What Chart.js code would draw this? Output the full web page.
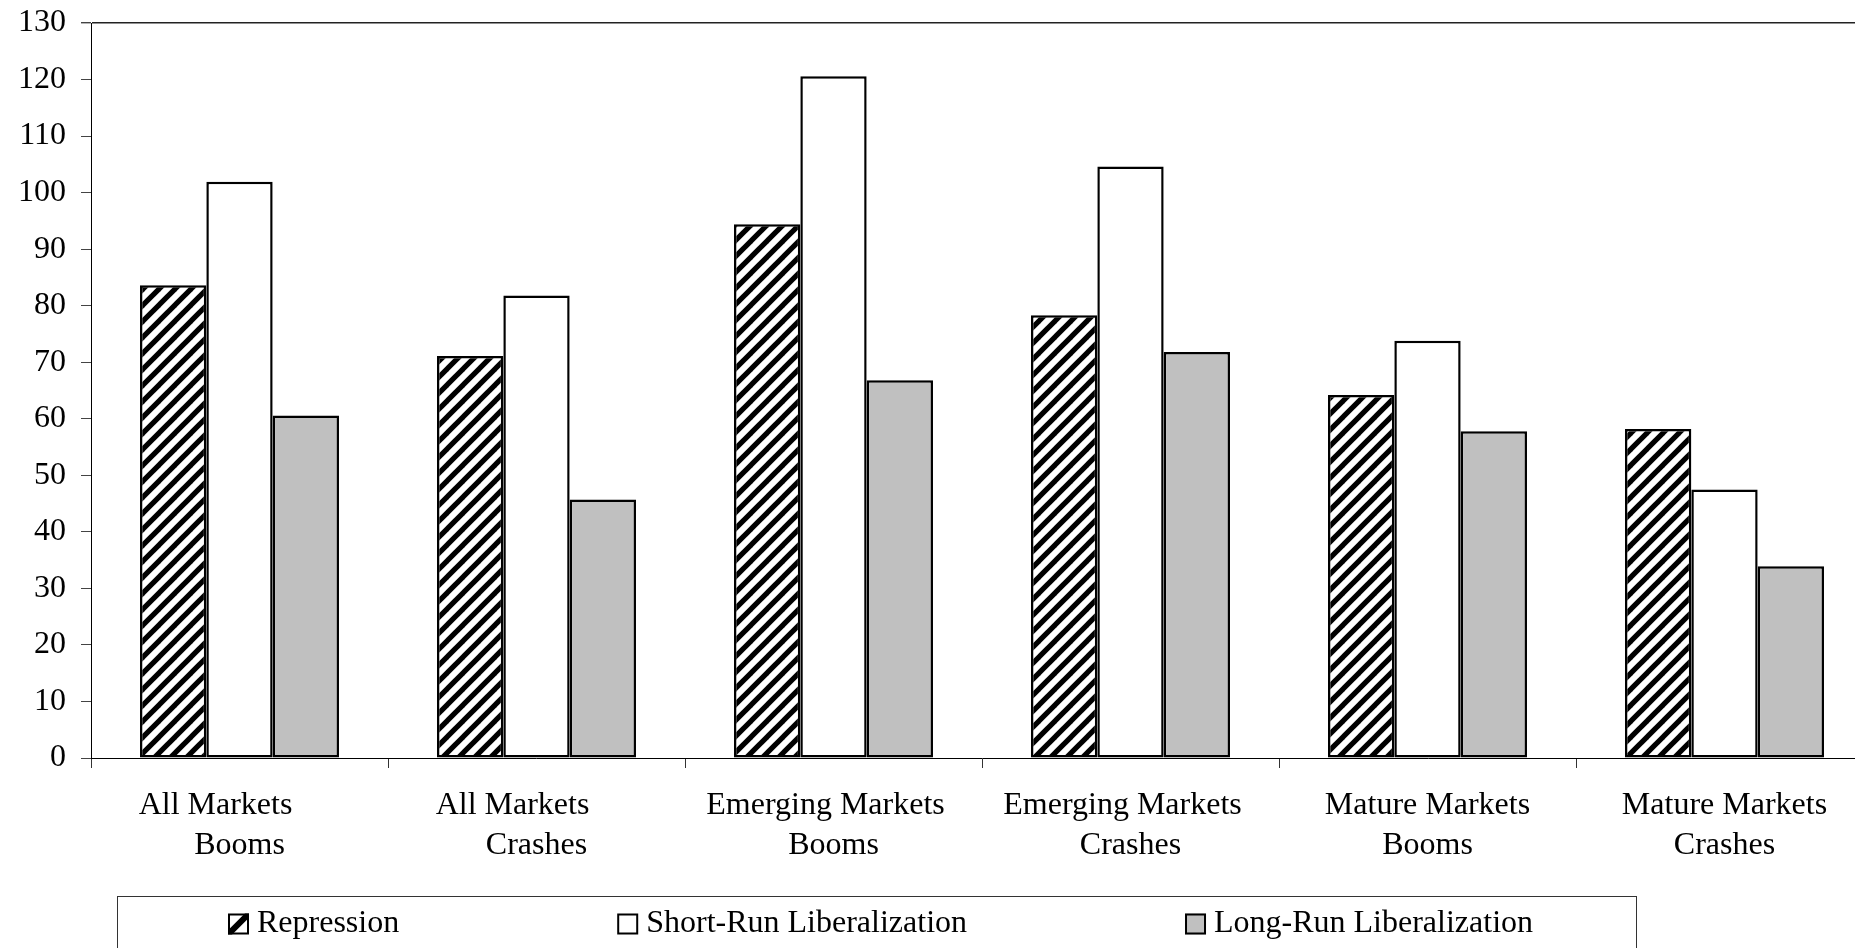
<!DOCTYPE html>
<html>
<head>
<meta charset="utf-8">
<script src="https://cdn.jsdelivr.net/npm/chart.js@4/dist/chart.umd.min.js"></script>
<style>
  html, body { margin: 0; padding: 0; background: #fff; overflow: hidden; }
  canvas { display: block; }
</style>
</head>
<body>
<canvas id="chart" width="1880" height="948"></canvas>
<script>
// Category labels (two lines each)
const categories = [
  ['All Markets', 'Booms'],
  ['All Markets', 'Crashes'],
  ['Emerging Markets', 'Booms'],
  ['Emerging Markets', 'Crashes'],
  ['Mature Markets', 'Booms'],
  ['Mature Markets', 'Crashes']
];

// Series values
const repression             = [83.6, 71.1, 94.4, 78.3, 64.2, 58.2];
const shortRunLiberalization = [101.9, 81.8, 120.6, 104.6, 73.8, 47.5];
const longRunLiberalization  = [60.6, 45.7, 66.8, 71.8, 57.8, 33.9];

// Series names
const seriesNames = ['Repression', 'Short-Run Liberalization', 'Long-Run Liberalization'];

// Value axis ticks
const yMin = 0;
const yMax = 130;
const yStep = 10;

// Trailing spaces on the first label line (nudges it left, as in the original layout)
const firstLinePad = [6, 6, 2, 2, 0, 0];

const FONT = "'Liberation Serif', 'Times New Roman', serif";
const canvas = document.getElementById('chart');
const mainCtx = canvas.getContext('2d');

// Diagonal "/" hatch: black stripes on white
function makeHatch(period, stripe) {
  const tile = document.createElement('canvas');
  tile.width = tile.height = period;
  const g = tile.getContext('2d');
  g.fillStyle = '#fff';
  g.fillRect(0, 0, period, period);
  g.strokeStyle = '#000';
  g.lineWidth = stripe;
  for (let k = 0; k <= 2; k++) {
    g.beginPath();
    g.moveTo(-period, k * period + period);
    g.lineTo(2 * period, k * period - 2 * period);
    g.stroke();
  }
  return mainCtx.createPattern(tile, 'repeat');
}
const hatch = makeHatch(16, 5.2);

// Legend drawn inside a framed box below the axis
const boxedLegend = {
  id: 'boxedLegend',
  afterDraw(chart, args, o) {
    const ctx = chart.ctx;
    ctx.save();
    ctx.strokeStyle = o.borderColor;
    ctx.lineWidth = 1;
    ctx.strokeRect(o.x + 0.5, o.y + 0.5, o.width, o.height);
    ctx.font = o.font;
    ctx.textBaseline = 'middle';
    ctx.textAlign = 'left';
    let x = o.x + o.inset;
    const s = o.marker;
    chart.data.datasets.forEach((ds) => {
      const mx = x, my = o.midY - s / 2;
      ctx.save();
      ctx.beginPath();
      ctx.rect(mx, my, s, s);
      ctx.fillStyle = (typeof ds.backgroundColor === 'string') ? ds.backgroundColor : '#fff';
      ctx.fill();
      if (typeof ds.backgroundColor !== 'string') {
        ctx.clip();
        ctx.strokeStyle = '#000';
        ctx.lineWidth = 6;
        ctx.beginPath();
        ctx.moveTo(mx - 2, my + s + 2);
        ctx.lineTo(mx + s + 2, my - 2);
        ctx.stroke();
      }
      ctx.restore();
      ctx.strokeStyle = '#000';
      ctx.lineWidth = 2;
      ctx.strokeRect(mx + 1, my + 1, s - 2, s - 2);
      ctx.fillStyle = '#000';
      const tx = mx + s + o.textGap;
      ctx.fillText(ds.label, tx, o.midY);
      x = tx + ctx.measureText(ds.label).width + o.itemGap;
    });
    ctx.restore();
  }
};

const barStyle = {
  borderColor: '#000',
  borderWidth: 2.5,
  borderSkipped: false,
  categoryPercentage: 0.67,
  barPercentage: 1.0
};

new Chart(canvas, {
  type: 'bar',
  data: {
    labels: categories,
    datasets: [
      Object.assign({ label: seriesNames[0], data: repression, backgroundColor: hatch }, barStyle),
      Object.assign({ label: seriesNames[1], data: shortRunLiberalization, backgroundColor: '#ffffff' }, barStyle),
      Object.assign({ label: seriesNames[2], data: longRunLiberalization, backgroundColor: '#c0c0c0' }, barStyle)
    ]
  },
  options: {
    responsive: false,
    animation: false,
    devicePixelRatio: 1,
    layout: { padding: { top: 23, right: 7, bottom: 60, left: 0 } },
    plugins: {
      legend: { display: false },
      tooltip: { enabled: false },
      boxedLegend: {
        x: 117, y: 896, width: 1519, height: 80,
        borderColor: '#333',
        font: "32px " + FONT,
        midY: 924,
        marker: 21,
        textGap: 8,
        inset: 111,
        itemGap: 218
      }
    },
    scales: {
      x: {
        offset: true,
        grid: {
          offset: true,
          drawOnChartArea: false,
          drawTicks: true,
          tickLength: 10,
          color: '#333'
        },
        border: { display: true, color: '#000', width: 1 },
        ticks: {
          color: '#000',
          font: { family: FONT, size: 32, lineHeight: 1.25 },
          padding: 18,
          maxRotation: 0,
          autoSkip: false,
          callback: (value, index) => {
            const lines = categories[index].slice();
            lines[0] = lines[0] + ' '.repeat(firstLinePad[index]);
            return lines;
          }
        },
        afterFit: (scale) => { scale.height = 130; }
      },
      y: {
        min: yMin,
        max: yMax,
        grid: {
          drawOnChartArea: true,
          drawTicks: true,
          tickLength: 10,
          color: (c) => (c.tick && c.tick.value === yMax) ? '#222' : 'rgba(0,0,0,0)',
          lineWidth: (c) => (c.tick && c.tick.value === yMax) ? 1.4 : 1,
          tickColor: '#444'
        },
        border: { display: true, color: '#000', width: 1 },
        ticks: {
          stepSize: yStep,
          color: '#000',
          font: { family: FONT, size: 32, lineHeight: 0.5 },
          padding: 15
        },
        afterFit: (scale) => { scale.width = 91; }
      }
    }
  },
  plugins: [boxedLegend]
});
</script>
</body>
</html>
